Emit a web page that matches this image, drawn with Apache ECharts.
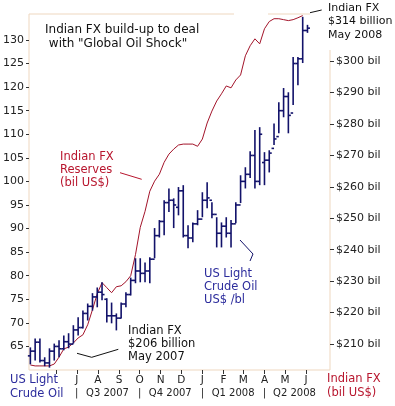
<!DOCTYPE html>
<html><head><meta charset="utf-8">
<script src="https://cdn.jsdelivr.net/npm/echarts@6/dist/echarts.min.js"></script>
<style>html,body{margin:0;padding:0;background:#fff}#c{width:395px;height:406px}</style>
</head><body><div id="c"></div>
<script>
const weeks = ['2007-04-24','2007-05-01','2007-05-08','2007-05-15','2007-05-22','2007-05-29','2007-06-05','2007-06-12','2007-06-19','2007-06-26',
'2007-07-03','2007-07-10','2007-07-17','2007-07-24','2007-07-31','2007-08-07','2007-08-14','2007-08-21','2007-08-28','2007-09-04',
'2007-09-11','2007-09-18','2007-09-25','2007-10-02','2007-10-09','2007-10-16','2007-10-23','2007-10-30','2007-11-06','2007-11-13',
'2007-11-20','2007-11-27','2007-12-04','2007-12-11','2007-12-18','2007-12-25','2008-01-01','2008-01-08','2008-01-15','2008-01-22',
'2008-01-29','2008-02-05','2008-02-12','2008-02-19','2008-02-26','2008-03-04','2008-03-11','2008-03-18','2008-03-25','2008-04-01',
'2008-04-08','2008-04-15','2008-04-22','2008-04-29','2008-05-06','2008-05-13','2008-05-20','2008-05-27','2008-06-03'];
const oilOpen  = [63.0,64.0,65.9,62.0,61.5,64.0,65.0,64.5,66.0,65.5, 68.5,69.0,72.0,73.5,75.5,76.5,75.0,71.5,71.5,71.0, 74.0,76.0,79.0,81.0,80.5,81.0,83.5,88.5,91.5,95.5, 96.0,94.5,98.0,88.5,88.0,91.0,92.0,96.0,96.0,93.0, 89.0,90.5,89.0,91.0,95.0,100.0,101.5,105.5,100.0,104.0, 104.5,107.0,109.5,115.0,118.0,114.5,125.0,126.0,132.0];
const oilHigh  = [64.8,66.7,66.7,62.7,64.6,65.6,66.3,67.3,67.8,69.5, 71.2,72.6,74.1,76.3,77.5,78.6,75.2,74.3,72.0,74.3, 76.5,79.6,83.7,83.7,82.8,83.9,90.1,91.8,96.0,98.5, 96.4,98.8,99.2,90.7,91.3,93.9,97.7,99.8,95.6,92.4, 91.3,92.4,91.8,95.6,101.3,103.0,106.4,110.9,111.5,106.2, 106.6,112.3,116.8,119.8,118.9,126.4,126.4,134.9,133.2];
const oilLow   = [61.2,62.0,61.6,60.8,60.5,62.0,62.7,64.2,64.6,65.6, 67.3,68.8,70.5,72.6,73.3,74.8,70.1,69.9,68.4,70.9, 73.3,75.8,78.4,78.6,78.6,78.4,83.7,88.1,88.6,93.5, 90.1,92.8,88.1,85.8,87.1,90.7,92.4,94.3,92.2,86.0, 86.0,88.1,86.0,91.1,95.4,98.5,100.7,98.5,99.2,99.2, 101.9,107.7,110.2,113.6,110.2,116.2,120.4,125.1,131.5];
const oilClose = [64.0,65.9,62.0,61.5,64.0,65.0,64.5,66.0,65.5,68.5, 69.0,72.0,73.5,75.5,76.5,76.0,71.5,71.5,71.0,74.0, 76.0,79.0,81.0,80.5,81.0,83.5,88.5,91.5,95.5,96.0, 95.0,98.0,88.5,88.0,91.0,92.0,96.0,96.5,93.0,89.0, 90.5,89.0,91.0,95.0,100.0,101.5,105.5,100.0,110.0,104.5, 106.0,109.0,115.0,118.0,114.0,125.0,126.0,132.0,132.5];
const fxReserves = [203.3,203.0,203.0,203.0,203.0,203.6,205.8,208.4,209.0,210.3, 211.9,212.9,216.1,220.9,226.0,229.5,227.9,226.3,228.2,228.5, 229.8,231.7,238.4,247.1,252.2,258.6,261.8,264.0,267.8,270.4, 272.0,273.3,273.6,273.6,273.6,272.9,275.2,280.3,284.1,287.3, 289.6,292.1,291.5,294.0,295.6,301.7,304.9,307.1,305.5,310.3, 312.6,313.5,313.5,313.2,312.9,313.2,313.8,314.5,null];
const priceTicks = [65,70,75,80,85,90,95,100,105,110,115,120,125,130];
const fxTicks = [210,220,230,240,250,260,270,280,290,300];
const monthTicks = ['2007-06-01','2007-07-01','2007-08-01','2007-09-01','2007-10-01','2007-11-01','2007-12-01','2008-01-01','2008-02-01','2008-03-01','2008-04-01','2008-05-01','2008-06-01'];
const monthLabels = ['2007-07-01','2007-08-01','2007-09-01','2007-10-01','2007-11-01','2007-12-01','2008-01-01','2008-02-01','2008-03-01','2008-04-01','2008-05-01','2008-06-01'];
const quarterMids = ['2007-08-15','2007-11-15','2008-02-15','2008-05-15'];
const quarterNames = ['Q3 2007','Q4 2007','Q1 2008','Q2 2008'];
const quarterStarts = ['2007-07-01','2007-10-01','2008-01-01','2008-04-01'];

const FONT = 'DejaVu Sans';
const BLUE = '#2c2c9c', NAVY = '#12126a', RED = '#b8162e', LINE_RED = '#a3142a', FRAME = '#eed7bf';
const ts = s => Date.parse(s);
const xMin = ts('2007-04-22'), xMax = ts('2008-07-06');
const xBase = {type:'value', min:xMin, max:xMax, gridIndex:0, splitLine:{show:false}, axisLine:{show:false}};

const chart = echarts.init(document.getElementById('c'), null, {renderer:'canvas'});
chart.setOption({
  animation:false,
  backgroundColor:'#fff',
  grid:{left:29, right:65, top:14, bottom:36, show:true, borderColor:FRAME, borderWidth:1, backgroundColor:'transparent'},
  xAxis:[
    Object.assign({}, xBase, {position:'bottom',
      axisTick:{show:true, length:4, customValues:monthTicks.map(ts), lineStyle:{color:'#333'}},
      axisLabel:{customValues:monthLabels.map(ts), margin:5, fontSize:10.5, fontFamily:FONT, color:'#222',
        formatter:v => 'JFMAMJJASOND'[new Date(v).getUTCMonth()]}}),
    Object.assign({}, xBase, {position:'bottom', offset:14, axisTick:{show:false},
      axisLabel:{customValues:quarterMids.map(ts), margin:4, fontSize:10, fontFamily:FONT, color:'#222',
        formatter:v => quarterNames[quarterMids.map(ts).indexOf(v)] || ''}}),
    Object.assign({}, xBase, {position:'bottom', offset:14, axisTick:{show:false},
      axisLabel:{customValues:quarterStarts.map(ts), margin:4, fontSize:10, fontFamily:FONT, color:'#222', formatter:() => '|'}})
  ],
  yAxis:[
    {type:'value', min:60, max:135.5, position:'left', splitLine:{show:false}, axisLine:{show:false},
      axisTick:{show:true, length:3, customValues:priceTicks, lineStyle:{color:'#333'}},
      axisLabel:{customValues:priceTicks, margin:5, fontSize:11, fontFamily:FONT, color:'#222'}},
    {type:'value', min:201.7, max:315, position:'right', splitLine:{show:false}, axisLine:{show:false},
      axisTick:{show:true, length:4, customValues:fxTicks, lineStyle:{color:'#333'}},
      axisLabel:{customValues:fxTicks, margin:6, fontSize:11, fontFamily:FONT, color:'#222', formatter:v => '$' + v + ' bil'}}
  ],
  series:[
    {type:'line', xAxisIndex:0, yAxisIndex:1, data:weeks.map((d,i) => [ts(d), fxReserves[i]]),
      showSymbol:false, symbol:'none', lineStyle:{color:LINE_RED, width:1}, z:2},
    {type:'custom', xAxisIndex:0, yAxisIndex:0, z:3,
      data:weeks.map((d,i) => [ts(d), oilOpen[i], oilHigh[i], oilLow[i], oilClose[i]]),
      encode:{x:0, y:[1,2,3,4]},
      renderItem:(params, api) => {
        const x = api.value(0);
        const op = api.coord([x, api.value(1)]);
        const hi = api.coord([x, api.value(2)]);
        const lo = api.coord([x, api.value(3)]);
        const cl = api.coord([x, api.value(4)]);
        const style = {stroke:NAVY, lineWidth:1.6};
        return {type:'group', children:[
          {type:'line', shape:{x1:hi[0], y1:hi[1], x2:lo[0], y2:lo[1]}, style},
          {type:'line', shape:{x1:op[0]-2.5, y1:op[1], x2:op[0], y2:op[1]}, style},
          {type:'line', shape:{x1:cl[0], y1:cl[1], x2:cl[0]+2.5, y2:cl[1]}, style}
        ]};
      }}
  ],
  graphic:[
    {type:'rect', shape:{x:234, y:12, width:34, height:4}, style:{fill:'#fff'}, z:1},
    {type:'rect', shape:{x:310, y:12, width:22, height:4}, style:{fill:'#fff'}, z:1},
    {type:'rect', shape:{x:328, y:0, width:5, height:50}, style:{fill:'#fff'}, z:1},
    {type:'text', z:10, left:45, top:23, style:{text:'Indian FX build-up to deal\n with "Global Oil Shock"', font:'12px "DejaVu Sans"', fill:'#111', lineHeight:14}},
    {type:'text', z:10, left:60, top:151, style:{text:'Indian FX\nReserves\n(bil US$)', font:'11.5px "DejaVu Sans"', fill:RED, lineHeight:13}},
    {type:'polyline', z:10, shape:{points:[[120,172.7],[141.7,179.3]]}, style:{stroke:RED, lineWidth:1, fill:null}},
    {type:'text', z:10, left:204, top:268, style:{text:'US Light\nCrude Oil\nUS$ /bl', font:'11.5px "DejaVu Sans"', fill:BLUE, lineHeight:13}},
    {type:'polyline', z:10, shape:{points:[[240,240],[253,254],[250,261]]}, style:{stroke:NAVY, lineWidth:1, fill:null}},
    {type:'text', z:10, left:128, top:325, style:{text:'Indian FX\n$206 billion\nMay 2007', font:'11.5px "DejaVu Sans"', fill:'#111', lineHeight:13}},
    {type:'polyline', z:10, shape:{points:[[77,353.3],[91.7,357.3],[118.3,349.3]]}, style:{stroke:'#111', lineWidth:1, fill:null}},
    {type:'text', z:10, left:328, top:1, style:{text:'Indian FX\n$314 billion\nMay 2008', font:'11px "DejaVu Sans"', fill:'#111', lineHeight:13.5}},
    {type:'polyline', z:10, shape:{points:[[310,12.7],[321.7,10]]}, style:{stroke:'#111', lineWidth:1, fill:null}},
    {type:'text', z:10, left:10, top:373, style:{text:'US Light\nCrude Oil', font:'11.5px "DejaVu Sans"', fill:BLUE, lineHeight:14}},
    {type:'text', z:10, left:327, top:372, style:{text:'Indian FX\n(bil US$)', font:'11.5px "DejaVu Sans"', fill:RED, lineHeight:14}}
  ]
});
</script>
</body></html>
